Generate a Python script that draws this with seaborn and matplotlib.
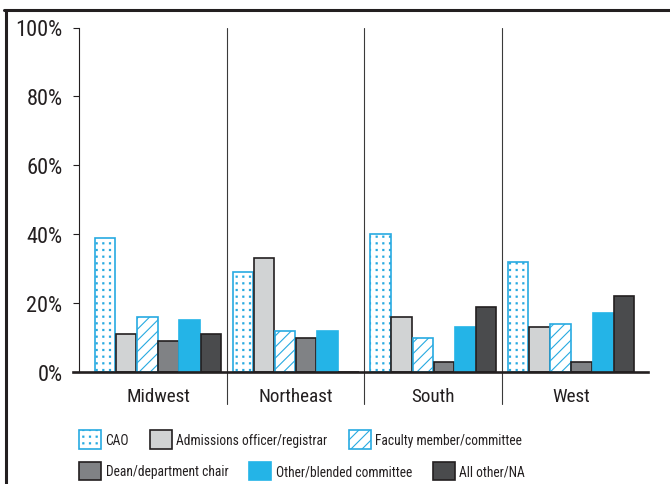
import numpy as np
import pandas as pd
import matplotlib
matplotlib.use("Agg")
import matplotlib.pyplot as plt
import matplotlib.hatch as mhatch
from matplotlib.path import Path
from matplotlib.patches import Patch
from matplotlib.lines import Line2D
from matplotlib.textpath import TextPath
from matplotlib.font_manager import FontProperties
from matplotlib import font_manager as fm
import seaborn as sns

# ---------------- data ----------------
regions = ["Midwest", "Northeast", "South", "West"]
roles = ["CAO", "Admissions officer/registrar", "Faculty member/committee",
         "Dean/department chair", "Other/blended committee", "All other/NA"]
cao = [39, 29, 40, 32]
admissions = [11, 33, 16, 13]
faculty = [16, 12, 10, 14]
dean = [9, 10, 3, 3]
other_blended = [15, 12, 13, 17]
all_other = [11, 0, 19, 22]
y_ticks = [0, 20, 40, 60, 80, 100]
y_tick_labels = ["0%", "20%", "40%", "60%", "80%", "100%"]

series = [cao, admissions, faculty, dean, other_blended, all_other]
df = pd.DataFrame([
    {"region": r, "role": role, "value": v}
    for role, vals in zip(roles, series)
    for r, v in zip(regions, vals)
])

# ---------------- styles ----------------
BLUE = "#27aae1"
CYAN = "#24b4e7"
DARK = "#231f20"
styles = {
    "CAO": dict(face="white", edge=BLUE, hatch="..."),
    "Admissions officer/registrar": dict(face="#d1d3d4", edge=DARK, hatch=None),
    "Faculty member/committee": dict(face="white", edge=BLUE, hatch="///"),
    "Dean/department chair": dict(face="#808285", edge=DARK, hatch=None),
    "Other/blended committee": dict(face=CYAN, edge=CYAN, hatch=None),
    "All other/NA": dict(face="#4a4b4d", edge=DARK, hatch=None),
}


# square-grid dot hatch (replaces the staggered small-dot pattern)
class _GridDots(mhatch.HatchPatternBase):
    def __init__(self, hatch, density):
        self.num_rows = hatch.count(".") * 5
        self.num_vertices = (self.num_rows ** 2) * 5 if self.num_rows else 0

    def set_vertices_and_codes(self, vertices, codes):
        n = self.num_rows
        step = 1.0 / n
        s = 0.0055
        sq = np.array([[-s, -s], [s, -s], [s, s], [-s, s], [-s, -s]])
        sc = [Path.MOVETO, Path.LINETO, Path.LINETO, Path.LINETO, Path.CLOSEPOLY]
        centers = (np.arange(n) + 0.5) * step
        k = 0
        for cy in centers:
            for cx in centers:
                vertices[k:k + 5] = sq + [cx, cy]
                codes[k:k + 5] = sc
                k += 5


mhatch._hatch_types = [(_GridDots if t is mhatch.SmallFilledCircles else t)
                       for t in mhatch._hatch_types]

# ---------------- fonts ----------------
sns.set_style("white")
avail = {f.name for f in fm.fontManager.ttflist}
stretch = "normal"
fam = None
for cand in ["Liberation Sans Narrow", "Roboto Condensed", "Open Sans Condensed",
             "Noto Sans Condensed", "DejaVu Sans Condensed"]:
    if cand in avail:
        fam = [cand, "DejaVu Sans"]
        break
if fam is None:
    cond = [f for f in fm.fontManager.ttflist
            if ("ondensed" in f.fname or "arrow" in f.fname)
            and f.name in ("Noto Sans", "Roboto", "Open Sans", "DejaVu Sans")]
    if cond:
        fam = [cond[0].name, "DejaVu Sans"]
        stretch = "condensed"
    else:
        fam = ["Roboto", "DejaVu Sans"]
plt.rcParams["font.family"] = fam
plt.rcParams["font.stretch"] = stretch
plt.rcParams["hatch.linewidth"] = 0.8
plt.rcParams["text.color"] = DARK


def fit_size(text, target_px, boost=1.06):
    """font size (pt) giving the target rendered width at 100 dpi"""
    prop = FontProperties(family=fam, stretch=stretch)
    w = TextPath((0, 0), text, size=10, prop=prop).get_extents().width
    return 10 * target_px / (w * 100 / 72) * boost


tick_fs = fit_size("100%", 42)
cat_fs = fit_size("Northeast", 67, boost=1.08)
leg_fs = fit_size("Admissions officer/registrar", 146, boost=1.03)

# ---------------- figure ----------------
W, H = 670, 485
fig = plt.figure(figsize=(W / 100, H / 100), dpi=100)
ax = fig.add_axes([73 / W, (H - 373) / H, (648 - 73) / W, (373 - 28.5) / H])

sns.barplot(data=df, x="region", y="value", hue="role", order=regions,
            hue_order=roles, palette={r: styles[r]["face"] for r in roles},
            saturation=1, width=0.92, gap=0.035, legend=False, ax=ax,
            errorbar=None)

for role, cont in zip(roles, ax.containers):
    st = styles[role]
    for p in cont.patches:
        p.set_facecolor(st["face"])
        p.set_edgecolor(st["edge"])
        p.set_linewidth(1.2)
        if st["hatch"]:
            p.set_hatch(st["hatch"])

ax.set_xlim(-0.617, 3.559)
ax.set_ylim(0, 100)
ax.set_xlabel("")
ax.set_ylabel("")

ax.set_yticks(y_ticks)
ax.set_yticklabels(y_tick_labels)
ax.tick_params(axis="y", direction="out", length=4, width=0.8, color=DARK,
               pad=8, labelsize=tick_fs, labelcolor=DARK, left=True)
ax.tick_params(axis="x", length=0, pad=10.5, labelsize=cat_fs, labelcolor=DARK)

for s in ["top", "right"]:
    ax.spines[s].set_visible(False)
ax.spines["left"].set_position(("data", -0.572))
ax.spines["left"].set_color(DARK)
ax.spines["left"].set_linewidth(0.8)
ax.spines["bottom"].set_color(DARK)
ax.spines["bottom"].set_linewidth(1.9)
ax.spines["bottom"].set_zorder(5)
ax.grid(False)

# group dividers
for i in range(len(regions) - 1):
    ax.plot([i + 0.5, i + 0.5], [100, -9.3], color="#3a3a3a", lw=0.8,
            clip_on=False, zorder=1)

# outer frame (left and top)
fig.add_artist(Line2D([5.5 / W, 5.5 / W], [0, (H - 10.5) / H],
                      transform=fig.transFigure, color=DARK, lw=2.2))
fig.add_artist(Line2D([4 / W, 1], [(H - 10.5) / H, (H - 10.5) / H],
                      transform=fig.transFigure, color=DARK, lw=2.2))

# legend (two rows, free-flowing columns)
fpx = leg_fs * 100 / 72
handles = [Patch(facecolor=styles[r]["face"], edgecolor=styles[r]["edge"],
                 hatch=styles[r]["hatch"], linewidth=1.2) for r in roles]
leg_kw = dict(loc="center left", ncol=3, frameon=False, borderpad=0,
              borderaxespad=0, fontsize=leg_fs, handlelength=22 / fpx,
              handleheight=23 / fpx, handletextpad=4.5 / fpx,
              columnspacing=21 / fpx)
leg1 = fig.legend(handles[:3], roles[:3],
                  bbox_to_anchor=(79 / W, (H - 440.5) / H), **leg_kw)
leg2 = fig.legend(handles[3:], roles[3:],
                  bbox_to_anchor=(79 / W, (H - 472) / H), **leg_kw)

fig.savefig("out.png", dpi=100)
